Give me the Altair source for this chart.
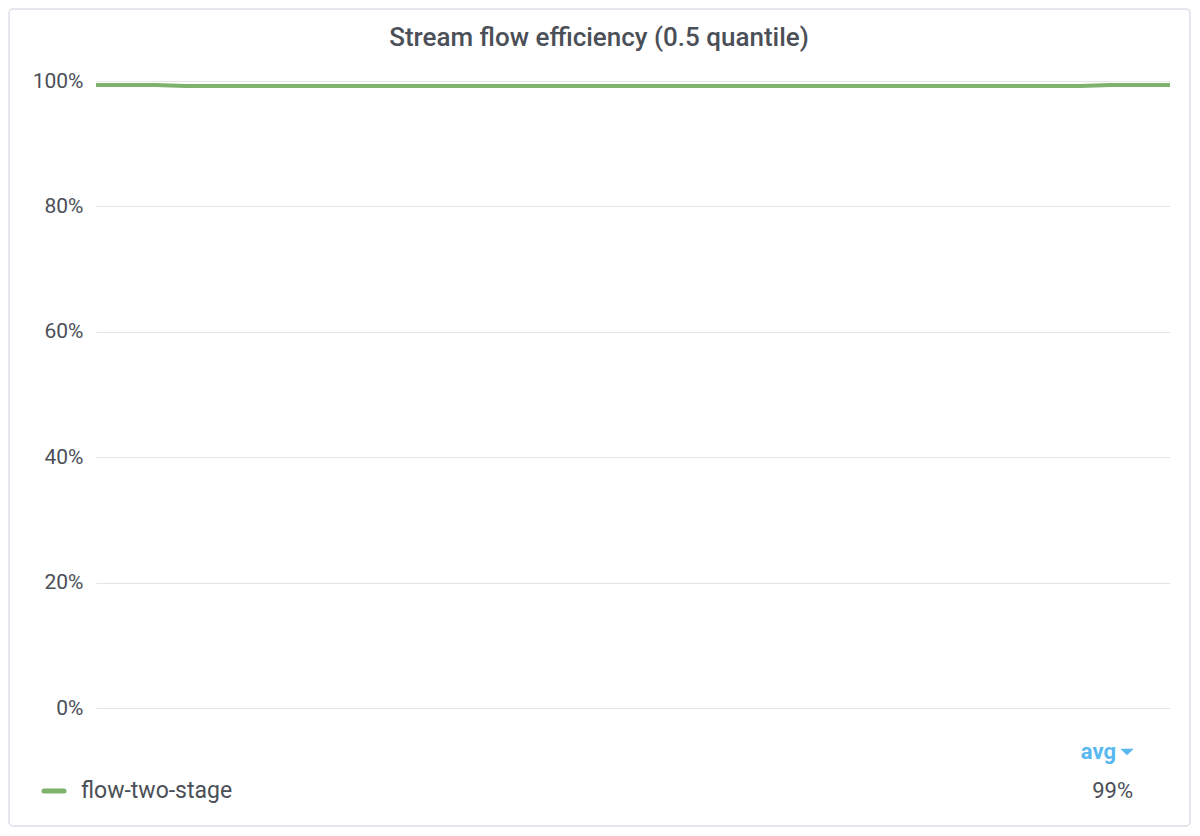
import altair as alt
import pandas as pd

# ---- data ----
title_text = "Stream flow efficiency (0.5 quantile)"
series_name = "flow-two-stage"
time_index = list(range(37))
efficiency = [99.35, 99.35, 99.35, 99.2, 99.2, 99.2, 99.2, 99.2, 99.2, 99.2,
              99.2, 99.2, 99.2, 99.2, 99.2, 99.2, 99.2, 99.2, 99.2, 99.2,
              99.2, 99.2, 99.2, 99.2, 99.2, 99.2, 99.2, 99.2, 99.2, 99.2,
              99.2, 99.2, 99.2, 99.2, 99.35, 99.35, 99.35]
y_ticks = [0, 20, 40, 60, 80, 100]
legend_header = "avg"

avg_val = sum(efficiency) / len(efficiency)
avg_label = f"{avg_val:.0f}%"

TEXT = "#4b4f57"
GREEN = "#7eb26d"
BLUE = "#5ab8f0"
FONT = "Roboto"

df = pd.DataFrame({"t": time_index, "v": efficiency, "s": [series_name] * len(time_index)})
one = pd.DataFrame({"k": [0]})

W, H = 1074, 627

panel = alt.Chart(one).mark_rect(
    fill="white", stroke="#dcdfe8", strokeWidth=1.5, cornerRadius=4
).encode(
    x=alt.value(-87), x2=alt.value(1094), y=alt.value(-72), y2=alt.value(745)
)

line = alt.Chart(df).mark_line(color=GREEN, strokeWidth=4, interpolate="linear").encode(
    x=alt.X("t:Q", axis=None, scale=alt.Scale(domain=[0, 36], nice=False, zero=False)),
    y=alt.Y("v:Q",
            scale=alt.Scale(domain=[0, 100], nice=False),
            axis=alt.Axis(values=y_ticks, title=None, domain=False, ticks=False,
                          labelPadding=13, labelFontSize=21, labelColor=TEXT,
                          labelFont=FONT, gridColor="#e4e4e4", gridWidth=1,
                          zindex=1, labelExpr="datum.value + '%'")),
)

title = alt.Chart(pd.DataFrame({"t": [title_text]})).mark_text(
    font=FONT, fontSize=26, fontWeight=500, color=TEXT, align="center", baseline="middle"
).encode(text="t:N", x=alt.value(503), y=alt.value(-43))

swatch = alt.Chart(pd.DataFrame({"s": [series_name]})).mark_rule(
    color=GREEN, strokeWidth=5, strokeCap="round"
).encode(x=alt.value(-52), x2=alt.value(-32), y=alt.value(710))

legend_name = alt.Chart(pd.DataFrame({"t": [series_name]})).mark_text(
    font=FONT, fontSize=23, color=TEXT, align="left", baseline="middle"
).encode(text="t:N", x=alt.value(-15), y=alt.value(710))

legend_avg = alt.Chart(pd.DataFrame({"t": [avg_label]})).mark_text(
    font=FONT, fontSize=22, color=TEXT, align="right", baseline="middle"
).encode(text="t:N", x=alt.value(1037), y=alt.value(710))

header = alt.Chart(pd.DataFrame({"t": [legend_header]})).mark_text(
    font=FONT, fontSize=22, fontWeight="bold", color=BLUE, align="right", baseline="middle"
).encode(text="t:N", x=alt.value(1020), y=alt.value(671))

caret = alt.Chart(one).mark_point(
    shape="M-1,-0.5L1,-0.5L0,0.5Z", filled=True, color=BLUE, size=180, opacity=1
).encode(x=alt.value(1031), y=alt.value(671))

chart = alt.layer(panel, line, title, swatch, legend_name, legend_avg, header, caret).properties(
    width=W, height=H,
    padding={"left": 88, "top": 73, "right": 22, "bottom": 122},
    autosize=alt.AutoSizeParams(type="none"),
).configure_view(strokeWidth=0).configure(background="white")

chart.save("out.html", embed_options={"renderer": "svg", "actions": False})
